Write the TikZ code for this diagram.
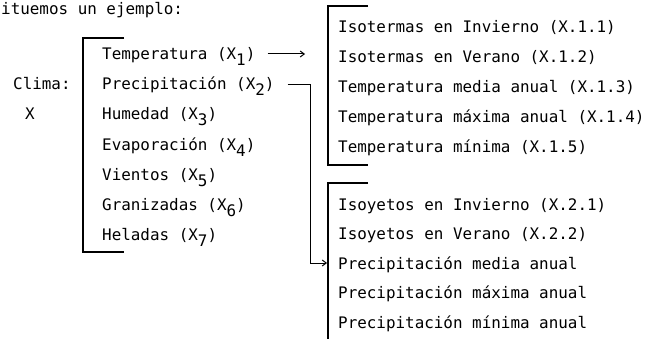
\documentclass[tikz,border=0pt]{standalone}
\usepackage{fontspec}
\setmonofont{DejaVu Sans Mono}
\usetikzlibrary{arrows.meta}
\newcommand{\xsub}[1]{\raisebox{-6pt}{#1}}
\begin{document}
\begin{tikzpicture}[x=1pt,y=-1pt,
  txt/.style={anchor=base west,inner sep=0pt,font=\ttfamily\fontsize{15.9}{19}\selectfont},
  brk/.style={line width=1.1pt},
  conn/.style={line width=1pt,-{Straight Barb[length=4pt,width=6pt]}}]
\useasboundingbox (0,0) rectangle (652,339);
\node[txt] (intro) at (1,15) {ituemos un ejemplo:};
\node[txt] (clima) at (13,90) {Clima:};
\node[txt] (climax) at (25,120) {X};
% variables
\draw[brk] (124,38) -- (83,38) -- (83,252) -- (124,252);
\foreach \name [count=\i] in {Temperatura,Precipitación,Humedad,Evaporación,Vientos,Granizadas,Heladas}
  \node[txt] (var\i) at (102,{30+30*\i}) {\name\ (X\xsub{\i})};
% temperatura
\draw[brk] (368,6) -- (328,6) -- (328,165) -- (368,165);
\node[txt] (t1) at (338,32.5) {Isotermas en Invierno (X.1.1)};
\node[txt] (t2) at (338,62.5) {Isotermas en Verano (X.1.2)};
\node[txt] (t3) at (338,92.5) {Temperatura media anual (X.1.3)};
\node[txt] (t4) at (338,122.5) {Temperatura máxima anual (X.1.4)};
\node[txt] (t5) at (338,152.5) {Temperatura mínima (X.1.5)};
% precipitacion
\draw[brk] (368,183) -- (328,183) -- (328,340);
\node[txt] (p1) at (338,210) {Isoyetos en Invierno (X.2.1)};
\node[txt] (p2) at (338,239.5) {Isoyetos en Verano (X.2.2)};
\node[txt] (p3) at (338,269) {Precipitación media anual};
\node[txt] (p4) at (338,298.5) {Precipitación máxima anual};
\node[txt] (p5) at (338,328) {Precipitación mínima anual};
% connectors
\coordinate (tip1) at (305,0);
\coordinate (bend) at (310,0);
\coordinate (a1) at ([xshift=12pt,yshift=6pt]var1.base east);
\coordinate (a2) at ([xshift=13pt,yshift=5pt]var2.base east);
\coordinate (b2) at ([xshift=-11pt,yshift=6pt]p3.base west);
\draw[conn] (a1) -- (a1 -| tip1);
\draw[conn] (a2) -- (a2 -| bend) |- (b2);
\end{tikzpicture}
\end{document}
